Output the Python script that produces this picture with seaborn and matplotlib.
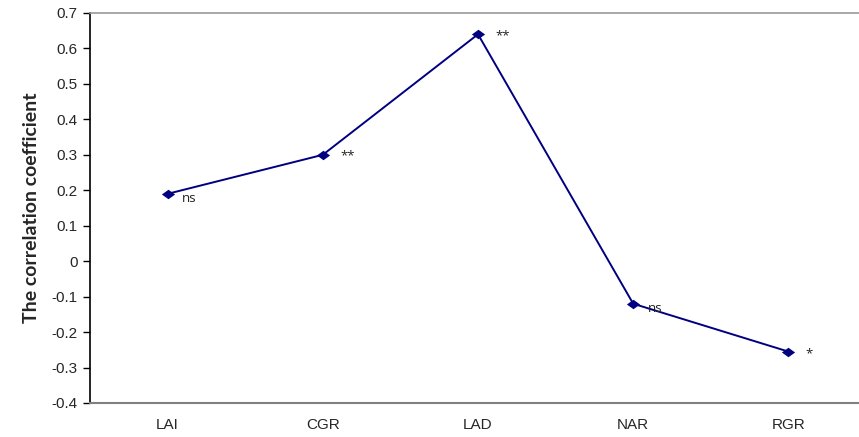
import matplotlib
matplotlib.use("Agg")
import matplotlib.pyplot as plt
import seaborn as sns
import pandas as pd

traits = ["LAI", "CGR", "LAD", "NAR", "RGR"]
correlation = [0.19, 0.30, 0.64, -0.12, -0.255]
significance = ["ns", "**", "**", "ns", "*"]

sns.set_style("white")
plt.rcParams["font.family"] = ["Liberation Sans", "DejaVu Sans"]

df = pd.DataFrame({"trait": traits, "r": correlation})

fig = plt.figure(figsize=(8.59, 4.37), dpi=100)
# plot area runs slightly past the right edge of the canvas
ax = fig.add_axes([90 / 859, 34 / 437, 776 / 859, 390 / 437])

diamond = [(-1, 0), (0, 0.72), (1, 0), (0, -0.72)]
sns.lineplot(data=df, x="trait", y="r", sort=False, ax=ax, color="#000080",
             linewidth=1.4, marker=diamond, markersize=9.5, markeredgewidth=0)

offsets = {"ns": (10.5, -3.5), "**": (12.5, -1), "*": (12, -1.5)}
for i, (val, sig) in enumerate(zip(correlation, significance)):
    dx, dy = offsets[sig]
    ax.annotate(sig, (i, val), xytext=(dx, dy), textcoords="offset points",
                ha="left", va="center", fontsize=9.5, color="#222222",
                family=["Open Sans", "DejaVu Sans"])

ax.set_xlim(-0.5, 4.5)
ax.set_ylim(-0.4, 0.7)
ax.set_yticks([0.7, 0.6, 0.5, 0.4, 0.3, 0.2, 0.1, 0, -0.1, -0.2, -0.3, -0.4])
ax.set_yticklabels(["0.7", "0.6", "0.5", "0.4", "0.3", "0.2", "0.1", "0",
                    "-0.1", "-0.2", "-0.3", "-0.4"])
ax.set_xlabel("")
ax.set_ylabel("The correlation coefficient", fontsize=14, fontweight="bold",
              labelpad=8, family=["Lato", "DejaVu Sans"])

ax.tick_params(axis="y", which="both", left=True, direction="out", length=5,
               width=1, labelsize=11, pad=4, color="black")
ax.tick_params(axis="x", bottom=False, labelsize=11, pad=7)

ax.spines["left"].set_color("black")
ax.spines["left"].set_linewidth(1.2)
ax.spines["bottom"].set_color("#808080")
ax.spines["bottom"].set_linewidth(1.5)
ax.spines["top"].set_color("#9a9a9a")
ax.spines["top"].set_linewidth(1.2)
ax.spines["right"].set_visible(False)

fig.savefig("out.png", dpi=100)
